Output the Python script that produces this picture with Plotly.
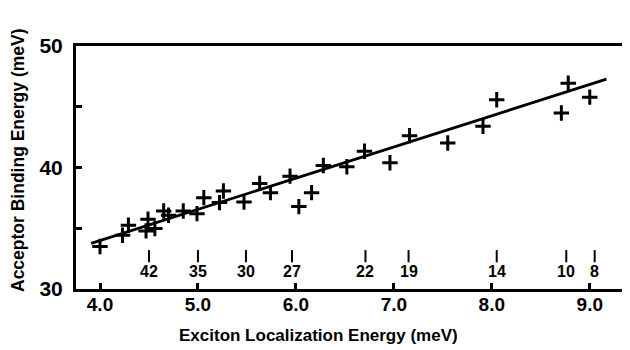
import plotly.graph_objects as go

# Measured data points (Exciton localization energy, acceptor binding energy), meV
loc_energy = [4.00, 4.23, 4.29, 4.47, 4.49, 4.56, 4.65, 4.70, 4.85, 4.99,
              5.06, 5.22, 5.26, 5.47, 5.63, 5.74, 5.94, 6.03, 6.16, 6.28,
              6.52, 6.70, 6.96, 7.16, 7.55, 7.91, 8.05, 8.71, 8.78, 9.00]
binding_energy = [33.50, 34.43, 35.25, 34.78, 35.74, 34.98, 36.42, 36.07, 36.42, 36.20,
                  37.52, 37.11, 38.06, 37.16, 38.69, 37.93, 39.29, 36.78, 37.93, 40.16,
                  40.06, 41.34, 40.39, 42.62, 42.02, 43.39, 45.57, 44.48, 46.94, 45.79]

# Fitted line end points
fit_x = [3.91, 9.17]
fit_y = [33.75, 47.27]

# Inner marker scale
marker_pos = [4.50, 5.00, 5.49, 5.96, 6.71, 7.15, 8.05, 8.76, 9.05]
marker_labels = ["42", "35", "30", "27", "22", "19", "14", "10", "8"]

x_ticks = [4, 5, 6, 7, 8, 9]
x_ticktext = ["4.0", "5.0", "6.0", "7.0", "8.0", "9.0"]
y_ticks = [30, 35, 40, 45, 50]
y_ticktext = ["30", "", "40", "", "50"]

x_title = "Exciton Localization Energy (meV)"
y_title = "Acceptor Binding Energy (meV)"

FONT = "Liberation Sans, Arial, Helvetica, sans-serif"

# page body has an 8px default margin; figure is sized to compensate
PW, PH = 551, 243  # plot area size in px

fig = go.Figure()
fig.add_trace(go.Scatter(x=fit_x, y=fit_y, mode="lines",
                         line=dict(color="black", width=2.8), showlegend=False))
fig.add_trace(go.Scatter(x=loc_energy, y=binding_energy, mode="markers",
                         marker=dict(symbol="cross-thin", size=11, color="black",
                                     line=dict(color="black", width=3)),
                         showlegend=False))

for xv, lab in zip(marker_pos, marker_labels):
    fig.add_shape(type="line", xref="x", yref="y", x0=xv, x1=xv, y0=32.2, y1=33.2,
                  line=dict(color="black", width=2))
    fig.add_annotation(x=xv, y=31.4, xref="x", yref="y", text=lab, showarrow=False,
                       xanchor="center", yanchor="middle",
                       font=dict(family=FONT, size=16, color="black", weight="bold"))

fig.add_annotation(x=(318 - 76) / PW, y=-(335 - 289) / PH, xref="paper", yref="paper",
                   text=x_title, showarrow=False, xanchor="center", yanchor="middle",
                   font=dict(family=FONT, size=17, color="black", weight="bold"))
fig.add_annotation(x=(18 - 76) / PW, y=(289 - 160) / PH, xref="paper", yref="paper",
                   text=y_title, showarrow=False, textangle=-90,
                   xanchor="center", yanchor="middle",
                   font=dict(family=FONT, size=17.5, color="black", weight="bold"))

fig.update_layout(
    width=622, height=342,
    margin=dict(l=68, r=3, t=38, b=61),
    plot_bgcolor="white", paper_bgcolor="white",
    font=dict(family=FONT, color="black"),
)
fig.update_xaxes(
    range=[3.755, 9.38], tickvals=x_ticks, ticktext=x_ticktext,
    ticks="inside", ticklen=6, tickwidth=3, tickcolor="black",
    showline=True, linewidth=3, linecolor="black", mirror=True,
    showgrid=False, zeroline=False, automargin=False, ticklabelstandoff=-4,
    tickfont=dict(family=FONT, size=19, color="black", weight="bold"),
)
fig.update_yaxes(
    range=[30, 50], tickvals=y_ticks, ticktext=y_ticktext,
    ticks="inside", ticklen=6, tickwidth=3, tickcolor="black",
    showline=True, linewidth=3, linecolor="black", mirror=True,
    showgrid=False, zeroline=False, automargin=False, ticklabelstandoff=6,
    tickfont=dict(family=FONT, size=21, color="black", weight="bold"),
)

fig.write_html("out.html")
